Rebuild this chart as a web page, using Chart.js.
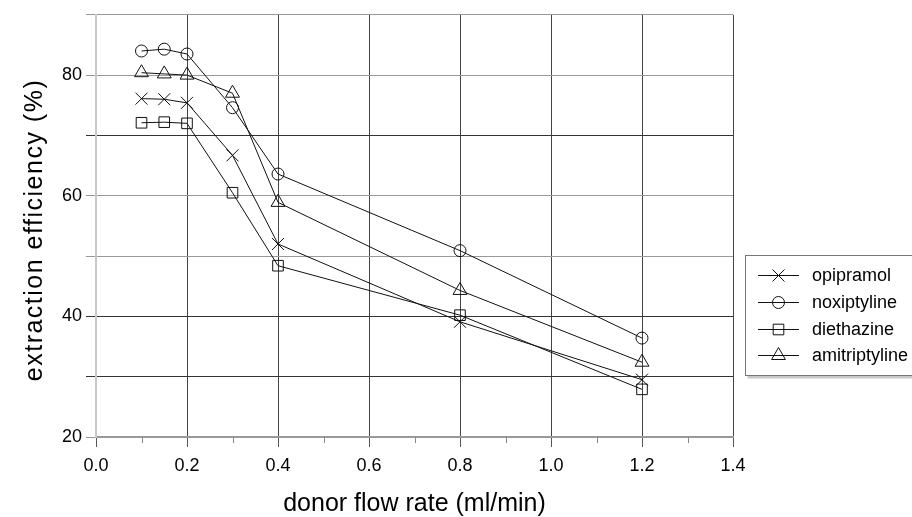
<!DOCTYPE html>
<html><head><meta charset="utf-8">
<script src="https://cdn.jsdelivr.net/npm/chart.js@4.4.0/dist/chart.umd.min.js"></script>
<style>html,body{margin:0;padding:0;background:#fff}#wrap{width:912px;height:517px;position:relative}</style>
</head><body><div id="wrap"><canvas id="c" width="912" height="517"></canvas></div>
<script>
const flowRates=[0.1,0.15,0.2,0.3,0.4,0.8,1.2];
const opipramol=[76.1,76.0,75.4,66.7,52.0,39.1,29.5];
const noxiptyline=[84.0,84.3,83.5,74.6,63.6,50.9,36.4];
const diethazine=[72.1,72.2,72.0,60.5,48.4,40.2,27.9];
const amitriptyline=[80.4,80.2,80.0,77.0,58.9,44.3,32.4];
const seriesNames=['opipramol','noxiptyline','diethazine','amitriptyline'];
const xTickLabels=['0.0','0.2','0.4','0.6','0.8','1.0','1.2','1.4'];
const xMinorTicks=[0.1,0.3,0.5,0.7,0.9,1.1,1.3];
const yTickLabels=['20','40','60','80'];
const xTitle='donor flow rate (ml/min)';
const yTitle='extraction efficiency (%)';

const FONT='"Liberation Sans", Arial, sans-serif';
const styles=[
  {pointStyle:'crossRot',radius:8.5},
  {pointStyle:'circle',radius:6},
  {pointStyle:'rect',radius:7.5},
  {pointStyle:'triangle',radius:8}
];
const allSeries=[opipramol,noxiptyline,diethazine,amitriptyline];
const datasets=allSeries.map((vals,i)=>({
  label:seriesNames[i],
  data:flowRates.map((x,j)=>({x:x,y:vals[j]})),
  borderColor:'#111',borderWidth:1,
  backgroundColor:'rgba(0,0,0,0)',
  pointStyle:styles[i].pointStyle,pointRadius:styles[i].radius,pointHoverRadius:styles[i].radius,
  pointBorderColor:'#111',pointBackgroundColor:'rgba(0,0,0,0)',pointBorderWidth:1,
  tension:0,fill:false
}));

function drawMarker(ctx,style,r,x,y){
  ctx.beginPath();
  if(style==='crossRot'){const d=Math.SQRT1_2*r;ctx.moveTo(x-d,y-d);ctx.lineTo(x+d,y+d);ctx.moveTo(x+d,y-d);ctx.lineTo(x-d,y+d);}
  else if(style==='circle'){ctx.arc(x,y,r,0,Math.PI*2);}
  else if(style==='rect'){const d=Math.SQRT1_2*r;ctx.rect(x-d,y-d,2*d,2*d);}
  else if(style==='triangle'){let a=0;ctx.moveTo(x+Math.sin(a)*r,y-Math.cos(a)*r);a+=2*Math.PI/3;ctx.lineTo(x+Math.sin(a)*r,y-Math.cos(a)*r);a+=2*Math.PI/3;ctx.lineTo(x+Math.sin(a)*r,y-Math.cos(a)*r);ctx.closePath();}
  ctx.stroke();
}

const extras={id:'extras',afterDraw(chart){
  const ctx=chart.ctx,xs=chart.scales.x,ca=chart.chartArea;
  ctx.save();
  // minor x ticks
  ctx.strokeStyle='#888';ctx.lineWidth=1;
  xMinorTicks.forEach(v=>{const px=Math.round(xs.getPixelForValue(v))+0.5;ctx.beginPath();ctx.moveTo(px,ca.bottom);ctx.lineTo(px,ca.bottom+6);ctx.stroke();});
  // y title
  ctx.save();
  ctx.translate(35,230);ctx.rotate(-Math.PI/2);
  ctx.font='25px '+FONT;ctx.fillStyle='#000';ctx.textAlign='center';ctx.textBaseline='middle';
  try{ctx.letterSpacing='1.5px';}catch(e){}
  ctx.fillText(yTitle,0,0);
  ctx.restore();
  // legend
  const bx=745.5,by=255.5,bw=175,bh=120;
  ctx.fillStyle='#c8c8c8';ctx.fillRect(bx+2,by+bh,bw,3);
  ctx.fillStyle='#fff';ctx.fillRect(bx,by,bw,bh);
  ctx.strokeStyle='#777';ctx.lineWidth=1;ctx.strokeRect(bx,by,bw,bh);
  ctx.font='18px '+FONT;ctx.textAlign='left';ctx.textBaseline='middle';
  seriesNames.forEach((name,i)=>{
    const y=Math.round(275+i*26.8)+0.5;
    ctx.strokeStyle='#111';ctx.lineWidth=1;
    ctx.beginPath();ctx.moveTo(758,y);ctx.lineTo(799,y);ctx.stroke();
    drawMarker(ctx,styles[i].pointStyle,styles[i].radius,778.5,y);
    ctx.fillStyle='#000';ctx.fillText(name,812,y+1);
  });
  ctx.restore();
}};

const yGridColor=v=>(v===70||v===40||v===30)?'#333':'#999';

new Chart(document.getElementById('c'),{
  type:'scatter',
  data:{datasets:datasets},
  plugins:[extras],
  options:{
    responsive:false,animation:false,
    layout:{padding:{top:13,right:179,left:0,bottom:0}},
    plugins:{legend:{display:false},tooltip:{enabled:false}},
    elements:{line:{borderWidth:1}},
    datasets:{scatter:{showLine:true}},
    scales:{
      x:{type:'linear',min:0,max:1.4,
        afterFit(s){s.height=80;},
        ticks:{stepSize:0.1,autoSkip:false,maxRotation:0,padding:8,color:'#000',font:{family:FONT,size:18},
          callback(v){const k=Math.round(v*10);return k%2===0?xTickLabels[k/2]:'';}},
        grid:{lineWidth:1,tickLength:10,
          color(c){const k=Math.round(c.tick.value*10);if(k===0)return '#c8c8c8';return k%2===0?'#444':'rgba(0,0,0,0)';},
          tickColor(c){const k=Math.round(c.tick.value*10);return k%2===0?'#555':'rgba(0,0,0,0)';}},
        border:{display:true,color:'#999',width:2},
        title:{display:true,text:xTitle,color:'#000',font:{family:FONT,size:25,lineHeight:1},padding:{top:0,bottom:0}}
      },
      y:{type:'linear',min:20,max:90,
        afterFit(s){s.width=96;},
        ticks:{stepSize:10,autoSkip:false,padding:4,color:'#000',font:{family:FONT,size:18},
          callback(v){const i=yTickLabels.indexOf(String(v));return (i>=0)?yTickLabels[i]:'';}},
        grid:{lineWidth:1,tickLength:10,
          color(c){return yGridColor(c.tick.value);},
          tickColor(c){return yGridColor(c.tick.value);}},
        border:{display:true,color:'#c8c8c8',width:2}
      }
    }
  }
});
</script></body></html>
